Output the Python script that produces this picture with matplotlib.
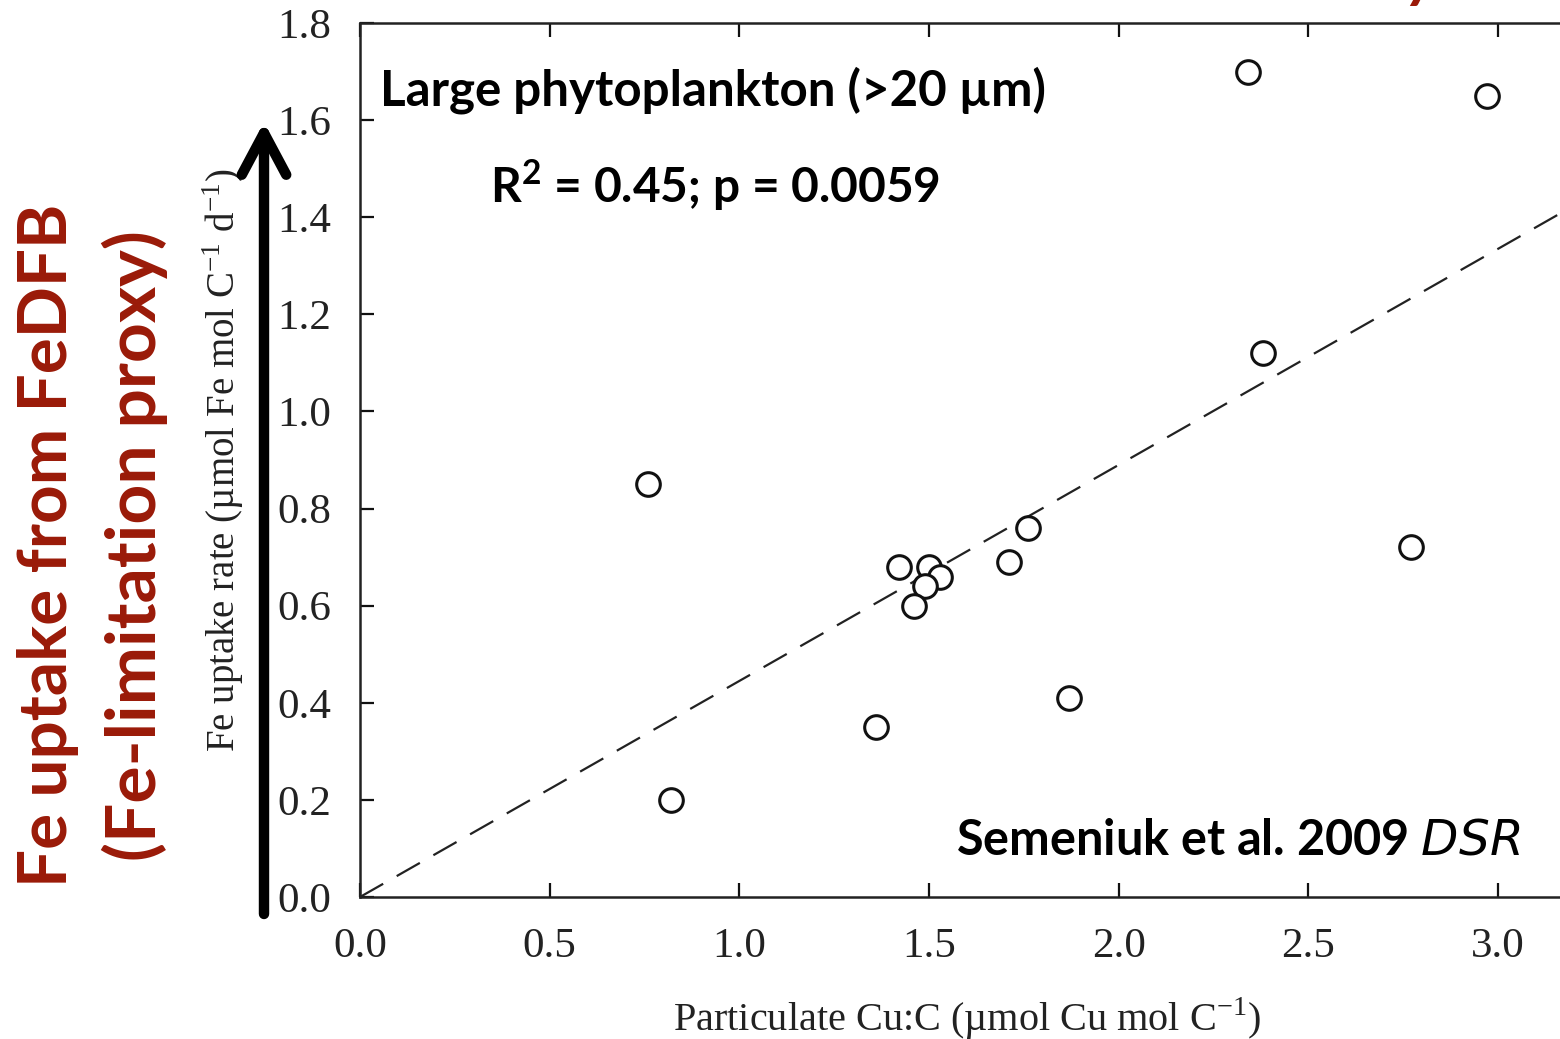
import matplotlib.pyplot as plt
import numpy as np

# data
cu_c = [2.34, 2.97, 2.38, 0.76, 2.77, 1.76, 1.71, 1.42, 1.50, 1.53, 1.49, 1.46, 1.87, 1.36, 0.82]
fe_uptake = [1.70, 1.65, 1.12, 0.85, 0.72, 0.76, 0.69, 0.68, 0.68, 0.66, 0.64, 0.60, 0.41, 0.35, 0.20]
fit_slope = 0.445
fit_intercept = 0.0
xticks = [0.0, 0.5, 1.0, 1.5, 2.0, 2.5, 3.0]
yticks = [0.0, 0.2, 0.4, 0.6, 0.8, 1.0, 1.2, 1.4, 1.6, 1.8]

W, H = 1560, 1039
red = '#9a1a08'
serif = 'Liberation Serif'
sans = 'Lato'


def fx(px):
    return px / W


def fy(py):
    return 1 - py / H


ax_l, ax_r, ax_t, ax_b = 360, 1574, 23, 897
fig = plt.figure(figsize=(W / 100, H / 100), dpi=100)
ax = fig.add_axes([fx(ax_l), fy(ax_b), fx(ax_r) - fx(ax_l), fy(ax_t) - fy(ax_b)])

ax.plot(cu_c, fe_uptake, linestyle='none', marker='o', ms=17, mfc='white',
        mec='#111111', mew=2.2, zorder=3)
xfit = np.array([0.0, 3.2])
ax.plot(xfit, fit_intercept + fit_slope * xfit, color='#222222', lw=1.6,
        dashes=(12, 7), zorder=2)

ax.set_xlim(0, 3.2)
ax.set_ylim(0, 1.8)
ax.set_xticks(xticks)
ax.set_yticks(yticks)
ax.set_xticklabels(['%.1f' % v for v in xticks])
ax.set_yticklabels(['%.1f' % v for v in yticks])
ax.tick_params(direction='in', length=10, width=1.6, top=True, right=False,
               labelsize=31, colors='#111111')
ax.tick_params(axis='x', pad=22)
ax.tick_params(axis='y', pad=21)
for lab in ax.get_xticklabels() + ax.get_yticklabels():
    lab.set_fontfamily(serif)
    lab.set_color('#222222')
for s in ['left', 'bottom', 'top']:
    ax.spines[s].set_linewidth(1.8)
    ax.spines[s].set_color('#222222')
ax.spines['right'].set_visible(False)

ax.set_xlabel('Particulate Cu:C (\u00b5mol Cu mol C$^{\\mathregular{-1}}$)',
              fontfamily=serif, fontsize=29, color='#222222')
ax.set_ylabel('Fe uptake rate (\u00b5mol Fe mol C$^{\\mathregular{-1}}$ d$^{\\mathregular{-1}}$)',
              fontfamily=serif, fontsize=28, color='#222222')
ax.yaxis.set_label_coords((246 - ax_l) / (ax_r - ax_l), 0.5)
ax.xaxis.set_label_coords(0.5, -(995 - ax_b) / (ax_b - ax_t))

# annotations inside the plot
fig.text(fx(380), fy(90), 'Large phytoplankton (>20 \u00b5m)', fontfamily=sans,
         fontweight='bold', fontsize=35.5, va='center', ha='left', color='black')
fig.text(fx(490), fy(185), 'R$^{\\mathregular{2}}$ = 0.45; p = 0.0059', fontfamily=sans,
         fontweight='bold', fontsize=34.5, va='center', ha='left', color='black')
fig.text(fx(1520), fy(840), 'Semeniuk et al. 2009 $\\mathit{DSR}$', fontfamily=sans,
         fontweight='bold', fontsize=35, va='center', ha='right', color='black')

# red axis description and arrow
fig.text(fx(48), fy(545), 'Fe uptake from FeDFB', fontfamily=sans, fontweight='bold',
         fontsize=48.5, rotation=90, va='center', ha='center', color=red)
fig.text(fx(135), fy(546), '(Fe-limitation proxy)', fontfamily=sans, fontweight='bold',
         fontsize=50, rotation=90, va='center', ha='center', color=red)
fig.text(fx(1421), fy(-4), 'y', fontfamily=sans, fontweight='bold', fontstyle='italic',
         fontsize=45, va='baseline', ha='center', color=red)

fig.add_artist(plt.matplotlib.patches.FancyArrowPatch(
    (fx(264), fy(914)), (fx(264), fy(122)), transform=fig.transFigure,
    arrowstyle='->,head_length=1.5,head_width=0.8', mutation_scale=20,
    shrinkA=0, shrinkB=0, lw=7.5, color='black', capstyle='round',
    joinstyle='round'))

fig.savefig('out.png', dpi=100)
